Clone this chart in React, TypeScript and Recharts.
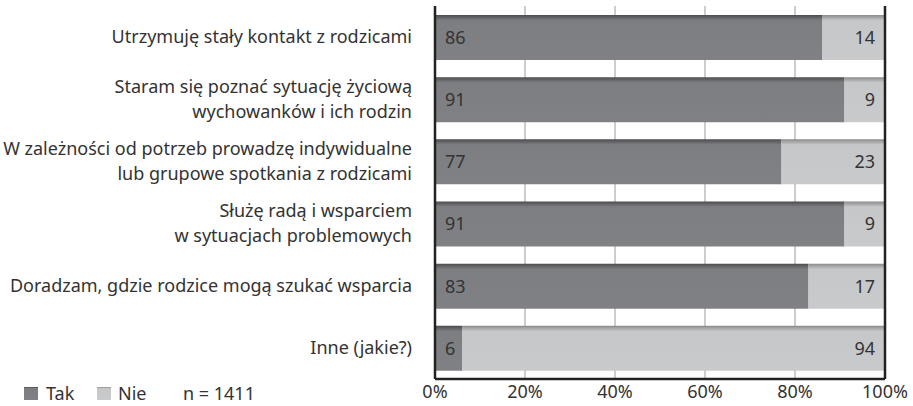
import { BarChart, Bar, XAxis, YAxis, CartesianGrid, ReferenceLine, LabelList } from "recharts";

const categories = [
  "Utrzymuję stały kontakt z rodzicami",
  "Staram się poznać sytuację życiową\nwychowanków i ich rodzin",
  "W zależności od potrzeb prowadzę indywidualne\nlub grupowe spotkania z rodzicami",
  "Służę radą i wsparciem\nw sytuacjach problemowych",
  "Doradzam, gdzie rodzice mogą szukać wsparcia",
  "Inne (jakie?)",
];
const tak = [86, 91, 77, 91, 83, 6];
const nie = [14, 9, 23, 9, 17, 94];
const xTicks = [0, 20, 40, 60, 80, 100];
const sampleNote = "n = 1411";

const data = categories.map((name, i) => ({ name, tak: tak[i], nie: nie[i] }));

const FONT = "'Noto Sans', sans-serif";
const TEXT = "#333333";
const FS = 18;

function CategoryTick(props: any) {
  const { x, y, payload } = props;
  const lines = String(payload.value).split("\n");
  const lh = 25;
  const start = -((lines.length - 1) * lh) / 2;
  return (
    <text x={x - 15} y={y} textAnchor="end" fill={TEXT} fontSize={FS} fontFamily={FONT}>
      {lines.map((l, i) => (
        <tspan key={i} x={x - 15} y={y + start + i * lh} dy="0.35em">
          {l}
        </tspan>
      ))}
    </text>
  );
}

// legend drawn straight into the chart svg, bottom-left
function LegendMarks() {
  const y = 393.5;
  return (
    <g>
      <rect x={24} y={y - 6.5} width={14} height={13} fill="url(#gTak)" />
      <text x={46} y={y} dy="0.35em" fill={TEXT} fontSize={FS} fontFamily={FONT}>Tak</text>
      <rect x={97} y={y - 6.5} width={14} height={13} fill="url(#gNie)" />
      <text x={118} y={y} dy="0.35em" fill={TEXT} fontSize={FS} fontFamily={FONT}>Nie</text>
      <text x={183} y={y} dy="0.35em" fill={TEXT} fontSize={FS} fontFamily={FONT}>{sampleNote}</text>
    </g>
  );
}

export default function App() {
  return (
    <div style={{ width: 913, height: 406, background: "#fff", position: "relative" }}>
      <style>{`body{margin:0}`}</style>
      <BarChart
        width={913}
        height={406}
        data={data}
        layout="vertical"
        barSize={45}
        margin={{ top: 6, right: 28, bottom: 0, left: 0 }}
      >
        <defs>
          <linearGradient id="gTak" x1="0" y1="0" x2="0" y2="1">
            <stop offset="0%" stopColor="#4c4c4e" />
            <stop offset="12%" stopColor="#7d7e81" />
            <stop offset="100%" stopColor="#808184" />
          </linearGradient>
          <linearGradient id="gNie" x1="0" y1="0" x2="0" y2="1">
            <stop offset="0%" stopColor="#8a8a8c" />
            <stop offset="12%" stopColor="#c6c7c9" />
            <stop offset="100%" stopColor="#c9cacc" />
          </linearGradient>
        </defs>
        <CartesianGrid horizontal={false} stroke="#bdbdbd" strokeWidth={1.5} />
        <XAxis
          type="number"
          domain={[0, 100]}
          ticks={xTicks}
          tickFormatter={(v) => `${v}%`}
          tickLine={false}
          axisLine={{ stroke: "#222", strokeWidth: 2.5 }}
          tick={{ fill: TEXT, fontSize: FS, fontFamily: FONT }}
          tickMargin={0}
          height={27}
          interval={0}
        />
        <YAxis
          type="category"
          dataKey="name"
          width={435}
          tickLine={false}
          axisLine={{ stroke: "#222", strokeWidth: 2.5 }}
          tick={<CategoryTick />}
          interval={0}
        />
        <ReferenceLine x={100} stroke="#222" strokeWidth={2.5} />
        <Bar dataKey="tak" stackId="a" fill="url(#gTak)" isAnimationActive={false}>
          <LabelList dataKey="tak" position="insideLeft" offset={10} fill={TEXT} fontSize={FS} fontFamily={FONT} />
        </Bar>
        <Bar dataKey="nie" stackId="a" fill="url(#gNie)" isAnimationActive={false}>
          <LabelList dataKey="nie" position="insideRight" offset={10} fill={TEXT} fontSize={FS} fontFamily={FONT} />
        </Bar>
        <LegendMarks />
      </BarChart>
    </div>
  );
}
